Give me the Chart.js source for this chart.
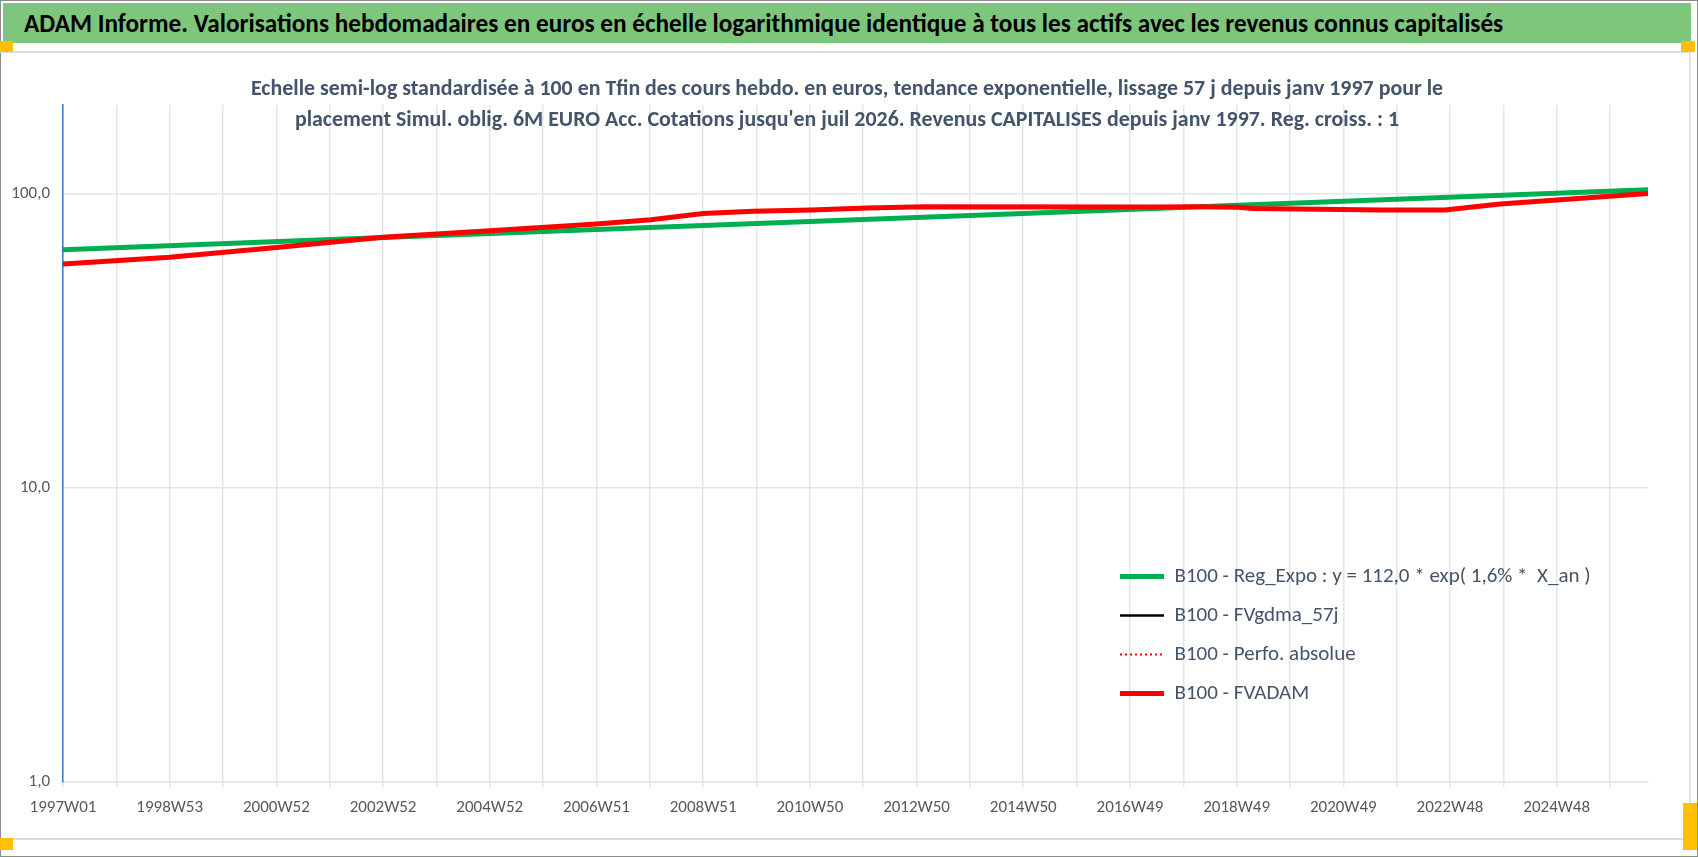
<!DOCTYPE html>
<html lang="fr">
<head>
<meta charset="utf-8">
<title>ADAM Informe</title>
<script src="https://cdn.jsdelivr.net/npm/chart.js@4.4.1/dist/chart.umd.min.js"></script>
<style>
  html, body { margin: 0; padding: 0; background: #fff; }
  body { width: 1698px; height: 857px; position: relative; overflow: hidden;
         font-family: Carlito, 'Liberation Sans Narrow', 'Open Sans', sans-serif; }
  #frame { position: absolute; left: 0; top: 0; width: 1696px; height: 855px; border: 1px solid #8c8c8c; }
  #header { position: absolute; left: 3px; top: 3px; width: 1688px; height: 40px; background: #7dc67b; }
  #header span { position: absolute; left: 21px; top: 50%; transform: translateY(-50%);
                 white-space: nowrap; font-weight: bold; font-size: 26px; color: #000; }
  #inner { position: absolute; left: 0; top: 51px; width: 1689px; height: 785px;
           border-top: 2px solid #dcdcdc; border-right: 2px solid #e4e4e4; border-bottom: 2px solid #dcdcdc; }
  .sub { position: absolute; left: 0; width: 1694px; text-align: center; z-index: 2; }
  .sub span { display: inline-block; white-space: nowrap; font-weight: bold; font-size: 20px;
              color: #44546a; transform: translateY(-50%); }
  .handle { position: absolute; background: #ffc000; z-index: 3; }
  canvas { position: absolute; left: 0; top: 0; z-index: 1; }
</style>
</head>
<body>
<div id="frame"></div>
<div id="header"><span id="headTxt">ADAM Informe. Valorisations hebdomadaires en euros en échelle logarithmique identique à tous les actifs avec les revenus connus capitalisés</span></div>
<div id="inner"></div>
<canvas id="adamChart" width="1698" height="857"></canvas>
<div class="sub" style="top:87px"><span id="sub1">Echelle semi-log standardisée à 100 en Tfin des cours hebdo. en euros, tendance exponentielle, lissage 57 j depuis janv 1997 pour le</span></div>
<div class="sub" style="top:118px"><span id="sub2">placement Simul. oblig. 6M EURO Acc. Cotations jusqu'en juil 2026. Revenus CAPITALISES depuis janv 1997. Reg. croiss. : 1</span></div>
<div class="handle" style="left:0;top:41px;width:13px;height:11px"></div>
<div class="handle" style="left:1681px;top:41px;width:14px;height:11px"></div>
<div class="handle" style="left:0;top:838px;width:13px;height:12px"></div>
<div class="handle" style="left:1683px;top:803px;width:14px;height:47px"></div>
<script>
'use strict';

/* --- Data (week index since 1997W01) --- */
const xTickLabels = ['1997W01','1998W53','2000W52','2002W52','2004W52','2006W51','2008W51',
  '2010W50','2012W50','2014W50','2016W49','2018W49','2020W49','2022W48','2024W48'];
const lastWeek = 1545;

const regWeeks  = [0, 312, 624, 936, 1248, 1545];
const regValues = [64.4, 70.9, 77.9, 85.6, 94.2, 103.0];

const adamWeeks  = [0, 104, 208, 312, 416, 520, 573, 624, 673, 729, 784, 840, 1060, 1107, 1145, 1160, 1288, 1347, 1401, 1470, 1545];
const adamValues = [57.6, 60.7, 65.6, 71.0, 74.8, 78.8, 81.5, 85.6, 87.0, 87.9, 89.3, 90.2, 90.0, 90.2, 89.8, 89.0, 88.0, 88.0, 92.1, 95.8, 100.0];

const yTickValues = [1, 10, 100];
const yTickLabels = ['1,0', '10,0', '100,0'];

const seriesLabels = [
  'B100 - Reg_Expo : y = 112,0 * exp( 1,6% *  X_an )',
  'B100 - FVgdma_57j',
  'B100 - Perfo. absolue',
  'B100 - FVADAM'
];

/* --- Text fitting for the html titles --- */
function fitWidth(el, target) {
  const w = el.getBoundingClientRect().width;
  const fs = parseFloat(getComputedStyle(el).fontSize);
  el.style.fontSize = (fs * target / w).toFixed(2) + 'px';
}
fitWidth(document.getElementById('headTxt'), 1479);
const sub1 = document.getElementById('sub1');
fitWidth(sub1, 1193);
document.getElementById('sub2').style.fontSize = sub1.style.fontSize;

const toPoints = (xs, ys) => xs.map((x, i) => ({ x, y: ys[i] }));

const FONT = "Carlito, 'Liberation Sans Narrow', 'Open Sans', sans-serif";
const GRID = '#e2e5eb';

// Week gridlines every 52 points, labels every 104
const gridWeeks = [];
for (let w = 0; w <= lastWeek; w += 52) gridWeeks.push(w);

/* --- Place legend inside the plot (bottom right) --- */
const legendSpot = {
  id: 'legendSpot',
  beforeDraw(chart) {
    const lg = chart.legend;
    const w = lg.width, h = 200;
    lg.left = 1102; lg.top = 548;
    lg.right = lg.left + w; lg.bottom = lg.top + h;
    lg.height = h;
  }
};

new Chart(document.getElementById('adamChart'), {
  type: 'line',
  data: {
    datasets: [
      { label: seriesLabels[0], data: toPoints(regWeeks, regValues),
        borderColor: '#00b050', backgroundColor: '#00b050', borderWidth: 5, order: 1 },
      { label: seriesLabels[1], data: [],
        borderColor: '#000000', backgroundColor: '#000000', borderWidth: 2.5, order: 1 },
      { label: seriesLabels[2], data: [],
        borderColor: '#ff0000', backgroundColor: '#ff0000', borderWidth: 2, borderDash: [2, 3], order: 1 },
      { label: seriesLabels[3], data: toPoints(adamWeeks, adamValues),
        borderColor: '#ff0000', backgroundColor: '#ff0000', borderWidth: 5, order: 0 }
    ]
  },
  options: {
    responsive: false,
    animation: false,
    devicePixelRatio: 1,
    elements: { point: { radius: 0 }, line: { tension: 0 } },
    layout: { padding: { left: 8, top: 105, right: 50, bottom: 35 } },
    scales: {
      x: {
        type: 'linear', min: 0, max: lastWeek,
        afterBuildTicks: (axis) => { axis.ticks = gridWeeks.map(v => ({ value: v })); },
        afterFit: (scale) => { scale.height = 40; },
        grid: { color: GRID, lineWidth: 1.5, tickLength: 5 },
        border: { color: GRID, width: 1.5 },
        ticks: {
          autoSkip: false, maxRotation: 0, padding: 11,
          color: '#595959', font: { family: FONT, size: 17 },
          callback: (v) => (v % 104 === 0 ? xTickLabels[v / 104] : '')
        }
      },
      y: {
        type: 'logarithmic', min: 1, max: 200,
        afterBuildTicks: (axis) => { axis.ticks = yTickValues.map(v => ({ value: v })); },
        afterFit: (scale) => { scale.width = 55; },
        grid: { color: GRID, lineWidth: 1.5, drawTicks: false },
        border: { color: '#4472c4', width: 1.5 },
        ticks: {
          padding: 13, color: '#595959', font: { family: FONT, size: 17 },
          callback: (v) => yTickLabels[yTickValues.indexOf(v)]
        }
      }
    },
    plugins: {
      title: { display: false },
      tooltip: { enabled: false },
      legend: {
        position: 'chartArea', align: 'start',
        labels: {
          usePointStyle: true, pointStyle: 'line', pointStyleWidth: 44,
          padding: 18, color: '#44546a', font: { family: FONT, size: 21 },
          sort: (a, b) => a.datasetIndex - b.datasetIndex,
          generateLabels: (chart) => {
            const items = Chart.defaults.plugins.legend.labels.generateLabels(chart);
            items.forEach(it => { it.lineDash = chart.data.datasets[it.datasetIndex].borderDash || []; });
            return items;
          }
        }
      }
    }
  },
  plugins: [legendSpot]
});
</script>
</body>
</html>
